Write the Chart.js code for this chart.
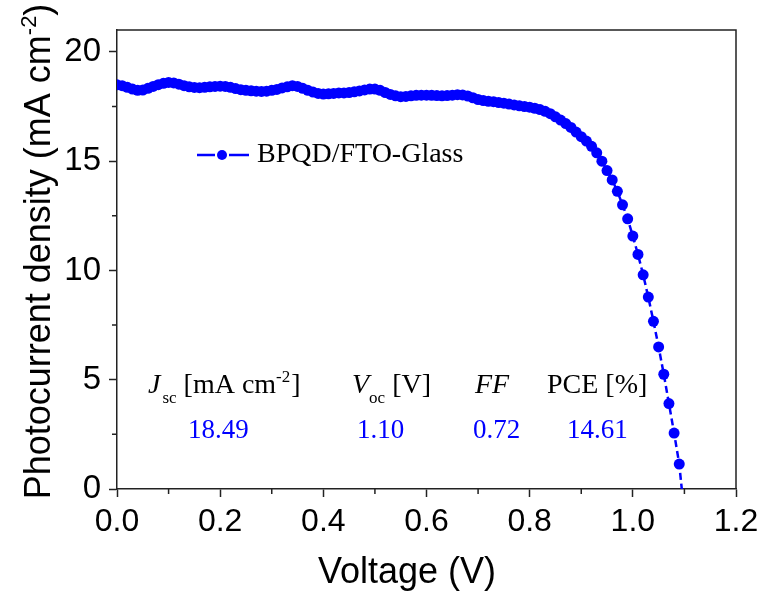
<!DOCTYPE html>
<html>
<head>
<meta charset="utf-8">
<script src="https://cdn.jsdelivr.net/npm/chart.js@4.4.1/dist/chart.umd.min.js"></script>
<style>
  html, body { margin: 0; padding: 0; background: #fff; }
  #wrap { position: relative; width: 765px; height: 596px; }
</style>
</head>
<body>
<div id="wrap"><canvas id="jv-chart"></canvas></div>
<script>
// J-V curve (V in volts, J in mA cm^-2)
const voltage = [
  0.00, 0.01, 0.02, 0.03, 0.04, 0.05, 0.06, 0.07, 0.08, 0.09,
  0.10, 0.11, 0.12, 0.13, 0.14, 0.15, 0.16, 0.17, 0.18, 0.19,
  0.20, 0.21, 0.22, 0.23, 0.24, 0.25, 0.26, 0.27, 0.28, 0.29,
  0.30, 0.31, 0.32, 0.33, 0.34, 0.35, 0.36, 0.37, 0.38, 0.39,
  0.40, 0.41, 0.42, 0.43, 0.44, 0.45, 0.46, 0.47, 0.48, 0.49,
  0.50, 0.51, 0.52, 0.53, 0.54, 0.55, 0.56, 0.57, 0.58, 0.59,
  0.60, 0.61, 0.62, 0.63, 0.64, 0.65, 0.66, 0.67, 0.68, 0.69,
  0.70, 0.71, 0.72, 0.73, 0.74, 0.75, 0.76, 0.77, 0.78, 0.79,
  0.80, 0.81, 0.82, 0.83, 0.84, 0.85, 0.86, 0.87, 0.88, 0.89,
  0.90, 0.91, 0.92, 0.93, 0.94, 0.95, 0.96, 0.97, 0.98, 0.99,
  1.00, 1.01, 1.02, 1.03, 1.04, 1.05, 1.06, 1.07, 1.08, 1.09,
  1.10
];
const current = [
  18.49, 18.45, 18.38, 18.30, 18.24, 18.25, 18.33, 18.42, 18.50, 18.56,
  18.60, 18.58, 18.52, 18.45, 18.40, 18.37, 18.36, 18.38, 18.40, 18.42,
  18.43, 18.42, 18.38, 18.32, 18.27, 18.24, 18.22, 18.20, 18.19, 18.20,
  18.24, 18.28, 18.35, 18.40, 18.45, 18.42, 18.33, 18.24, 18.16, 18.10,
  18.07, 18.08, 18.10, 18.12, 18.12, 18.14, 18.17, 18.21, 18.26, 18.30,
  18.30, 18.24, 18.14, 18.05, 17.99, 17.95, 17.96, 17.99, 18.01, 18.02,
  18.02, 18.01, 18.00, 17.99, 18.00, 18.02, 18.04, 18.03, 17.98, 17.90,
  17.82, 17.77, 17.74, 17.72, 17.68, 17.65, 17.61, 17.57, 17.53, 17.50,
  17.47, 17.42, 17.36, 17.28, 17.17, 17.03, 16.88, 16.72, 16.54, 16.33,
  16.12, 15.92, 15.68, 15.38, 15.00, 14.57, 14.14, 13.62, 13.00, 12.36,
  11.57, 10.73, 9.80, 8.78, 7.67, 6.50, 5.25, 3.91, 2.56, 1.14,
  -1.20
];

const seriesName = 'BPQD/FTO-Glass';
const xTickStep = 0.2;
const yTickStep = 5;
const xMinorTicks = [0.1, 0.3, 0.5, 0.7, 0.9, 1.1];
const yMinorTicks = [2.5, 7.5, 12.5, 17.5];

// photovoltaic parameters table
const paramValues = ['18.49', '1.10', '0.72', '14.61'];

const BLUE = '#0000ff';
const AXIS = '#222';
const SANS = '"Liberation Sans", Arial, sans-serif';
const SERIF = '"Liberation Serif", "Times New Roman", serif';

const points = voltage.map((v, i) => ({ x: v, y: current[i] }));

// frame, minor ticks, axis titles, legend and parameter table
const decorations = {
  id: 'decorations',
  afterDraw(chart) {
    const ctx = chart.ctx;
    const a = chart.chartArea;
    const xs = chart.scales.x, ys = chart.scales.y;
    ctx.save();
    ctx.setLineDash([]);

    // top / right frame
    ctx.strokeStyle = AXIS;
    ctx.lineWidth = 1.5;
    ctx.beginPath();
    ctx.moveTo(a.left, a.top); ctx.lineTo(a.right, a.top); ctx.lineTo(a.right, a.bottom);
    ctx.stroke();

    // minor ticks
    ctx.beginPath();
    xMinorTicks.forEach(v => {
      const px = xs.getPixelForValue(v);
      ctx.moveTo(px, a.bottom); ctx.lineTo(px, a.bottom + 5);
    });
    yMinorTicks.forEach(v => {
      const py = ys.getPixelForValue(v);
      ctx.moveTo(a.left - 5, py); ctx.lineTo(a.left, py);
    });
    ctx.stroke();

    ctx.fillStyle = '#000';
    ctx.textBaseline = 'alphabetic';

    // x title
    ctx.font = '36px ' + SANS;
    ctx.textAlign = 'center';
    ctx.fillText('Voltage (V)', 407, 583);

    // y title with superscript
    ctx.save();
    ctx.translate(50, (a.top + a.bottom) / 2 - 8);
    ctx.rotate(-Math.PI / 2);
    ctx.textAlign = 'left';
    const big = '36px ' + SANS, small = '22px ' + SANS;
    ctx.font = big;
    const t1 = 'Photocurrent density (mA cm', t3 = ')';
    const w1 = ctx.measureText(t1).width, w3 = ctx.measureText(t3).width;
    ctx.font = small;
    const w2 = ctx.measureText('-2').width;
    let x0 = -(w1 + w2 + w3) / 2;
    ctx.font = big; ctx.fillText(t1, x0, 0);
    ctx.font = small; ctx.fillText('-2', x0 + w1, -14);
    ctx.font = big; ctx.fillText(t3, x0 + w1 + w2, 0);
    ctx.restore();

    // legend
    ctx.setLineDash([]);
    ctx.strokeStyle = BLUE;
    ctx.lineWidth = 2.5;
    ctx.beginPath();
    ctx.moveTo(197, 155); ctx.lineTo(215, 155);
    ctx.moveTo(229, 155); ctx.lineTo(249, 155);
    ctx.stroke();
    ctx.fillStyle = BLUE;
    ctx.beginPath(); ctx.arc(222, 155, 5, 0, Math.PI * 2); ctx.fill();
    ctx.fillStyle = '#000';
    ctx.font = '28px ' + SERIF;
    ctx.textAlign = 'left';
    ctx.fillText(seriesName, 257, 162);

    // table headers
    const hdr = '28px ' + SERIF, hdrI = 'italic 28px ' + SERIF, sub = '17px ' + SERIF;
    const run = (x, y, parts) => {
      parts.forEach(p => {
        ctx.font = p.f;
        ctx.fillText(p.t, x + (p.dx || 0), y + (p.dy || 0));
        x += (p.dx || 0) + ctx.measureText(p.t).width;
      });
    };
    run(148, 393, [
      { t: 'J', f: hdrI }, { t: 'sc', f: sub, dx: 2, dy: 10 },
      { t: ' [mA cm', f: hdr }, { t: '-2', f: sub, dy: -11 }, { t: ']', f: hdr, dx: 1 }
    ]);
    run(352, 393, [
      { t: 'V', f: hdrI }, { t: 'oc', f: sub, dx: 0, dy: 10 }, { t: ' [V]', f: hdr }
    ]);
    run(475, 393, [{ t: 'FF', f: hdrI }]);
    run(547, 393, [{ t: 'PCE [%]', f: hdr }]);

    // table values
    ctx.fillStyle = BLUE;
    ctx.font = '27px ' + SERIF;
    [188, 357, 473, 567].forEach((x, i) => ctx.fillText(paramValues[i], x, 438));

    ctx.restore();
  }
};

Chart.register(decorations);

new Chart(document.getElementById('jv-chart'), {
  type: 'scatter',
  data: {
    datasets: [{
      label: seriesName,
      data: points,
      showLine: true,
      borderColor: BLUE,
      borderWidth: 2.5,
      borderDash: [7, 4],
      backgroundColor: BLUE,
      pointRadius: 5.5,
      pointBorderWidth: 0,
      pointHoverRadius: 5.5
    }]
  },
  options: {
    responsive: true,
    maintainAspectRatio: false,
    animation: false,
    layout: { padding: { top: 30, right: 29, left: 0, bottom: 0 } },
    plugins: { legend: { display: false }, tooltip: { enabled: false } },
    scales: {
      x: {
        type: 'linear',
        min: 0, max: 1.2,
        ticks: {
          stepSize: xTickStep,
          color: '#000',
          padding: 6,
          maxRotation: 0,
          font: { family: SANS, size: 32 },
          callback: v => v.toFixed(1)
        },
        grid: { drawOnChartArea: false, drawTicks: true, tickLength: 8, tickColor: AXIS, tickWidth: 1.5 },
        border: { color: AXIS, width: 1.5 },
        afterFit: s => { s.height = 107; }
      },
      y: {
        type: 'linear',
        min: 0, max: 21,
        ticks: {
          stepSize: yTickStep,
          includeBounds: false,
          color: '#000',
          padding: 8,
          font: { family: SANS, size: 33 }
        },
        afterBuildTicks: s => { s.ticks = s.ticks.filter(t => t.value % yTickStep === 0); },
        grid: { drawOnChartArea: false, drawTicks: true, tickLength: 8, tickColor: AXIS, tickWidth: 1.5 },
        border: { color: AXIS, width: 1.5 },
        afterFit: s => { s.width = 117; }
      }
    }
  }
});
</script>
</body>
</html>
